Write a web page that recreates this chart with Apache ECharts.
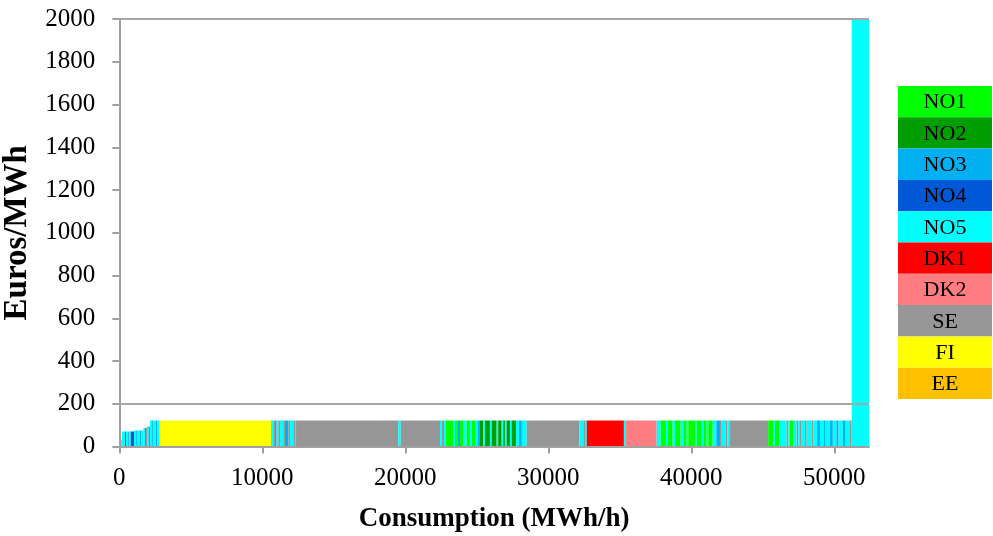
<!DOCTYPE html>
<html>
<head>
<meta charset="utf-8">
<title>Supply curve by bidding area</title>
<script src="https://cdn.jsdelivr.net/npm/echarts@6/dist/echarts.min.js"></script>
<style>
  html, body { margin: 0; padding: 0; background: #ffffff; }
  #chart { width: 993px; height: 536px; }
</style>
</head>
<body>
<div id="chart"></div>
<script>
// Bidding areas and their colours (legend order)
const areaNames = ['NO1', 'NO2', 'NO3', 'NO4', 'NO5', 'DK1', 'DK2', 'SE', 'FI', 'EE'];
const areaColors = ['#00FF00', '#009E00', '#00B0F0', '#0058D6', '#00FFFF',
                    '#FF0000', '#FF7C80', '#969696', '#FFFF00', '#FFC000'];

// Merit-order blocks: cumulative volume at the end of each block (MWh/h),
// its price (Euros/MWh) and the area it comes from.
const blockEnd = [
  190, 400, 470, 620, 700, 800, 1030, 1180, 1280, 1450, 1550, 1680, 1790, 1870, 1940,
  2050, 2150, 2300, 2400, 2560, 2660, 2800, 10610, 10770, 10890, 11000, 11120, 11240,
  11470, 11590, 11820, 11940, 12170, 12290, 12360, 19510, 19680, 22430, 22540, 22710,
  22850, 23360, 23480, 23640, 23830, 24060, 24290, 24520, 24640, 24880, 25050, 25220,
  25450, 25570, 25920, 26040, 26390, 26500, 26740, 26850, 26970, 27090, 27320, 27440,
  27740, 27950, 28150, 28490, 32170, 32450, 32570, 32690, 35290, 35430, 37580, 37860,
  38230, 38320, 38700, 38860, 39260, 39440, 39680, 39790, 40260, 40380, 40730, 40840,
  41080, 41190, 41500, 41750, 42010, 42130, 42430, 42520, 42660, 45380, 45730, 45850,
  46150, 46670, 46790, 46900, 47130, 47370, 47480, 47600, 47720, 47950, 48070, 48420,
  48530, 48800, 49000, 49250, 49400, 49700, 49900, 50150, 50300, 50600, 50800, 51100,
  51220, 52430
];
const blockPrice = [
  33, 70, 70, 70, 70, 70, 70, 75, 75, 75, 75, 75, 86, 86, 88,
  94, 94, 122, 122, 122, 122, 122, 122, 122, 122, 122, 122, 122,
  122, 122, 122, 122, 122, 122, 122, 122, 122, 122, 122, 122,
  122, 122, 122, 122, 122, 122, 122, 122, 122, 122, 122, 122,
  122, 122, 122, 122, 122, 122, 122, 122, 122, 122, 122, 122,
  122, 122, 122, 122, 122, 122, 122, 122, 122, 122, 122, 122,
  122, 122, 122, 122, 122, 122, 122, 122, 122, 122, 122, 122,
  122, 122, 122, 122, 122, 122, 122, 122, 122, 122, 122, 122,
  122, 122, 122, 122, 122, 122, 122, 122, 122, 122, 122, 122,
  122, 122, 122, 122, 122, 122, 122, 122, 122, 122, 122, 122,
  122, 2000
];
const blockArea = [
  'EE', 'NO5', 'NO4', 'NO5', 'NO3', 'NO5', 'NO4', 'NO5', 'NO3', 'NO5', 'NO3', 'NO5', 'NO5', 'NO3', 'SE',
  'NO5', 'NO3', 'NO5', 'NO3', 'NO5', 'NO3', 'NO5', 'FI', 'NO5', 'SE', 'NO3', 'NO5', 'SE',
  'NO5', 'SE', 'NO3', 'SE', 'NO5', 'SE', 'NO5', 'SE', 'NO5', 'SE', 'NO5', 'SE',
  'NO5', 'NO1', 'NO5', 'NO1', 'NO3', 'NO1', 'NO5', 'NO1', 'NO5', 'NO1', 'NO5', 'NO3',
  'NO2', 'NO5', 'NO2', 'NO5', 'NO2', 'NO5', 'NO2', 'NO5', 'NO2', 'NO5', 'NO2', 'NO5',
  'NO2', 'NO5', 'NO3', 'NO5', 'SE', 'NO5', 'SE', 'NO5', 'DK1', 'NO5', 'DK2', 'NO5',
  'NO1', 'NO5', 'NO1', 'NO5', 'NO1', 'NO5', 'NO1', 'NO5', 'NO1', 'NO5', 'NO1', 'NO5',
  'NO1', 'NO5', 'NO1', 'NO5', 'NO3', 'SE', 'NO5', 'SE', 'NO5', 'SE', 'NO1', 'NO5',
  'NO1', 'NO5', 'SE', 'NO5', 'NO1', 'NO5', 'SE', 'NO5', 'SE', 'NO5', 'SE', 'NO5',
  'SE', 'NO5', 'NO3', 'NO5', 'NO3', 'NO5', 'NO3', 'NO5', 'NO3', 'NO5', 'NO3', 'NO5',
  'SE', 'NO5'
];

// Axis ticks
const xTicks = [0, 10000, 20000, 30000, 40000, 50000];
const xMax = 52430;
const yMin = 0, yMax = 2000, yStep = 200;

// Build [start, end, price, areaIndex] rows for the custom series
const blocks = blockEnd.map((end, i) => [
  i === 0 ? 0 : blockEnd[i - 1], end, blockPrice[i], areaNames.indexOf(blockArea[i])
]);

const serif = '"Liberation Serif", "Times New Roman", serif';
const axisGrey = '#A0A0A0';
const plainNumber = v => String(v);

// Only the 200 and 2000 levels carry a horizontal rule
const yLineColors = [];
for (let v = yMin; v <= yMax; v += yStep) {
  yLineColors.push(v === 200 || v === 2000 ? '#A6A6A6' : 'rgba(0,0,0,0)');
}

// Legend: coloured boxes with the area name centred inside
const legendTop = 86, legendLeft = 898, legendW = 94, legendH = 31.3;
const legendGraphics = areaNames.map((name, i) => ({
  type: 'group',
  left: legendLeft,
  top: legendTop + i * legendH,
  children: [
    { type: 'rect', shape: { x: 0, y: 0, width: legendW, height: legendH },
      style: { fill: areaColors[i] } },
    { type: 'text', x: legendW / 2, y: legendH / 2 + 1,
      style: { text: name, fill: '#000', font: '22px ' + serif,
               align: 'center', verticalAlign: 'middle' } }
  ]
}));

const chart = echarts.init(document.getElementById('chart'), null, { renderer: 'canvas' });
chart.setOption({
  animation: false,
  backgroundColor: '#ffffff',
  grid: { left: 119.3, right: 124, top: 19, bottom: 89.5,
          containLabel: false, outerBoundsMode: 'none' },
  xAxis: {
    type: 'value',
    min: 0,
    max: xMax,
    interval: 10000,
    z: 10,
    name: 'Consumption (MWh/h)',
    nameLocation: 'middle',
    nameGap: 59,
    nameTextStyle: { fontFamily: serif, fontSize: 27, fontWeight: 'bold', color: '#000' },
    axisLine: { show: true, lineStyle: { color: axisGrey, width: 2 } },
    axisTick: { show: true, inside: false, length: 7, customValues: xTicks,
                lineStyle: { color: axisGrey, width: 2 } },
    axisLabel: { customValues: xTicks, formatter: plainNumber, margin: 19,
                 fontFamily: serif, fontSize: 25, color: '#000' },
    splitLine: { show: false }
  },
  yAxis: {
    type: 'value',
    min: yMin,
    max: yMax,
    interval: yStep,
    z: 10,
    name: 'Euros/MWh',
    nameLocation: 'middle',
    nameGap: 79,
    nameRotate: 90,
    nameTextStyle: { fontFamily: serif, fontSize: 33, fontWeight: 'bold', color: '#000' },
    axisLine: { show: true, lineStyle: { color: axisGrey, width: 2 } },
    axisTick: { show: true, inside: false, length: 7, lineStyle: { color: axisGrey, width: 2 } },
    axisLabel: { formatter: plainNumber, margin: 24, fontFamily: serif, fontSize: 25, color: '#000' },
    splitLine: { show: true, lineStyle: { color: yLineColors, width: 2 } }
  },
  series: [{
    type: 'custom',
    clip: true,
    data: blocks,
    encode: { x: [0, 1], y: 2 },
    renderItem: function (params, api) {
      const topLeft = api.coord([api.value(0), api.value(2)]);
      const bottomRight = api.coord([api.value(1), 0]);
      return {
        type: 'rect',
        shape: {
          x: topLeft[0],
          y: topLeft[1],
          width: bottomRight[0] - topLeft[0],
          height: bottomRight[1] - topLeft[1]
        },
        style: { fill: areaColors[api.value(3)] }
      };
    }
  }],
  graphic: legendGraphics
});
</script>
</body>
</html>
